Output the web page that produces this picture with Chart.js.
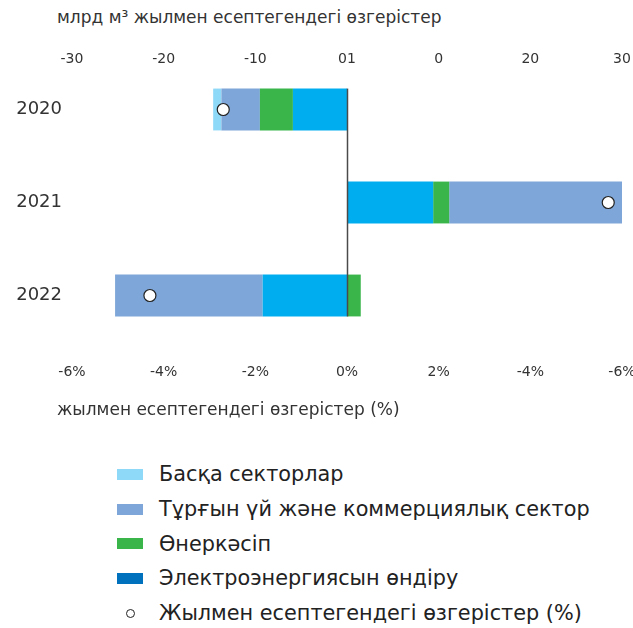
<!DOCTYPE html>
<html>
<head>
<meta charset="utf-8">
<script src="https://cdn.jsdelivr.net/npm/chart.js@4"></script>
<style>
  body { margin: 0; width: 633px; height: 628px; position: relative; background: #fff; overflow: hidden;
         font-family: 'DejaVu Sans', sans-serif; color: #333; }
  #chart-box { position: absolute; left: 0; top: 0; width: 633px; height: 440px; }
  .axis-title { position: absolute; left: 57px; font-size: 17px; color: #333; white-space: nowrap; }
  #legend { position: absolute; left: 117px; top: 457px; }
  .item { height: 34.7px; display: flex; align-items: center; font-size: 20.8px; color: #222; white-space: nowrap; }
  .swatch { width: 26px; height: 11px; margin-right: 16px; }
  .dot { width: 9px; height: 9px; border: 1.2px solid #222; border-radius: 50%; box-sizing: border-box;
         margin: 0 24px 0 9px; }
</style>
</head>
<body>
<div class="axis-title" style="top:7px">млрд м³ жылмен есептегендегі өзгерістер</div>
<div id="chart-box"><canvas id="chart" width="633" height="440"></canvas></div>
<div class="axis-title" style="top:399px">жылмен есептегендегі өзгерістер (%)</div>
<div id="legend"></div>

<script>
// values (bcm, year-on-year)
const years = ['2020', '2021', '2022'];
const powerGen = [-5.9, 9.4, -9.2];
const industry = [-3.6, 1.75, 1.5];
const residential = [-4.2, 18.9, -16.1];
const otherSectors = [-0.9, 0, 0];
// year-on-year change, %
const changePct = [-2.7, 5.7, -4.3];

// tick labels exactly as printed on the original
const topTicks = ['-30', '-20', '-10', '01', '0', '20', '30'];
const bottomTicks = ['-6%', '-4%', '-2%', '0%', '2%', '-4%', '-6%'];

const seriesNames = {
    other: 'Басқа секторлар',
    residential: 'Тұрғын үй және коммерциялық сектор',
    industry: 'Өнеркәсіп',
    power: 'Электроэнергиясын өндіру',
    change: 'Жылмен есептегендегі өзгерістер (%)'
};

// vertical zero line, only as tall as the bars
const zeroLine = {
    id: 'zeroLine',
    afterDatasetsDraw(chart) {
        const meta = chart.getDatasetMeta(1);
        const first = meta.data[0], last = meta.data[meta.data.length - 1];
        const x = Math.round(chart.scales.x.getPixelForValue(0)) + 0.5;
        const ctx = chart.ctx;
        ctx.save();
        ctx.strokeStyle = '#4a4a4a';
        ctx.lineWidth = 1.5;
        ctx.beginPath();
        ctx.moveTo(x, first.y - first.height / 2);
        ctx.lineTo(x, last.y + last.height / 2);
        ctx.stroke();
        ctx.restore();
    }
};

const tickFont = { family: 'DejaVu Sans', size: 14, lineHeight: 1.2 };

const chart = new Chart(document.getElementById('chart'), {
    type: 'bar',
    data: {
        labels: years,
        datasets: [
            {
                type: 'line',
                label: seriesNames.change,
                data: changePct,
                xAxisID: 'x2',
                showLine: false,
                pointRadius: 6,
                pointBackgroundColor: '#fff',
                pointBorderColor: '#222',
                pointBorderWidth: 1.2,
                order: 0
            },
            { label: seriesNames.power, data: powerGen, backgroundColor: '#00aeef', legendColor: '#0071bc', order: 1 },
            { label: seriesNames.industry, data: industry, backgroundColor: '#39b54a', order: 1 },
            { label: seriesNames.residential, data: residential, backgroundColor: '#7ea6d8', order: 1 },
            { label: seriesNames.other, data: otherSectors, backgroundColor: '#8ed8f8', order: 1 }
        ]
    },
    options: {
        indexAxis: 'y',
        responsive: false,
        animation: false,
        layout: { autoPadding: false, padding: { left: 0, right: 11, top: 0, bottom: 0 } },
        datasets: { bar: { barPercentage: 0.45, categoryPercentage: 1, borderWidth: 0 } },
        plugins: { legend: { display: false }, tooltip: { enabled: false } },
        scales: {
            x: {
                position: 'top',
                stacked: true,
                min: -30, max: 30,
                grid: { display: false, drawTicks: false },
                border: { display: false },
                ticks: {
                    stepSize: 10,
                    padding: -5,
                    color: '#333',
                    font: tickFont,
                    maxRotation: 0,
                    callback: (v, i) => topTicks[i]
                },
                afterFit: s => { s.height = 63; s.paddingLeft = 0; s.paddingRight = 0; }
            },
            x2: {
                position: 'bottom',
                min: -6, max: 6,
                grid: { display: false, drawTicks: false },
                border: { display: false },
                ticks: {
                    stepSize: 2,
                    padding: 22,
                    color: '#333',
                    font: tickFont,
                    maxRotation: 0,
                    callback: (v, i) => bottomTicks[i]
                },
                afterFit: s => { s.height = 98; s.paddingLeft = 0; s.paddingRight = 0; }
            },
            y: {
                stacked: true,
                grid: { display: false, drawTicks: false },
                border: { display: false },
                ticks: { color: '#333', padding: 10, font: { family: 'DejaVu Sans', size: 18 } },
                afterFit: s => { s.width = 72; }
            }
        }
    },
    plugins: [zeroLine]
});

// legend: bars from the outer segment inward, then the dots
const legend = document.getElementById('legend');
[4, 3, 2, 1].forEach(i => {
    const ds = chart.data.datasets[i];
    const row = document.createElement('div');
    row.className = 'item';
    row.innerHTML = `<span class="swatch" style="background:${ds.legendColor || ds.backgroundColor}"></span>${ds.label}`;
    legend.appendChild(row);
});
const dotRow = document.createElement('div');
dotRow.className = 'item';
dotRow.innerHTML = `<span class="dot"></span>${chart.data.datasets[0].label}`;
legend.appendChild(dotRow);
</script>
</body>
</html>
